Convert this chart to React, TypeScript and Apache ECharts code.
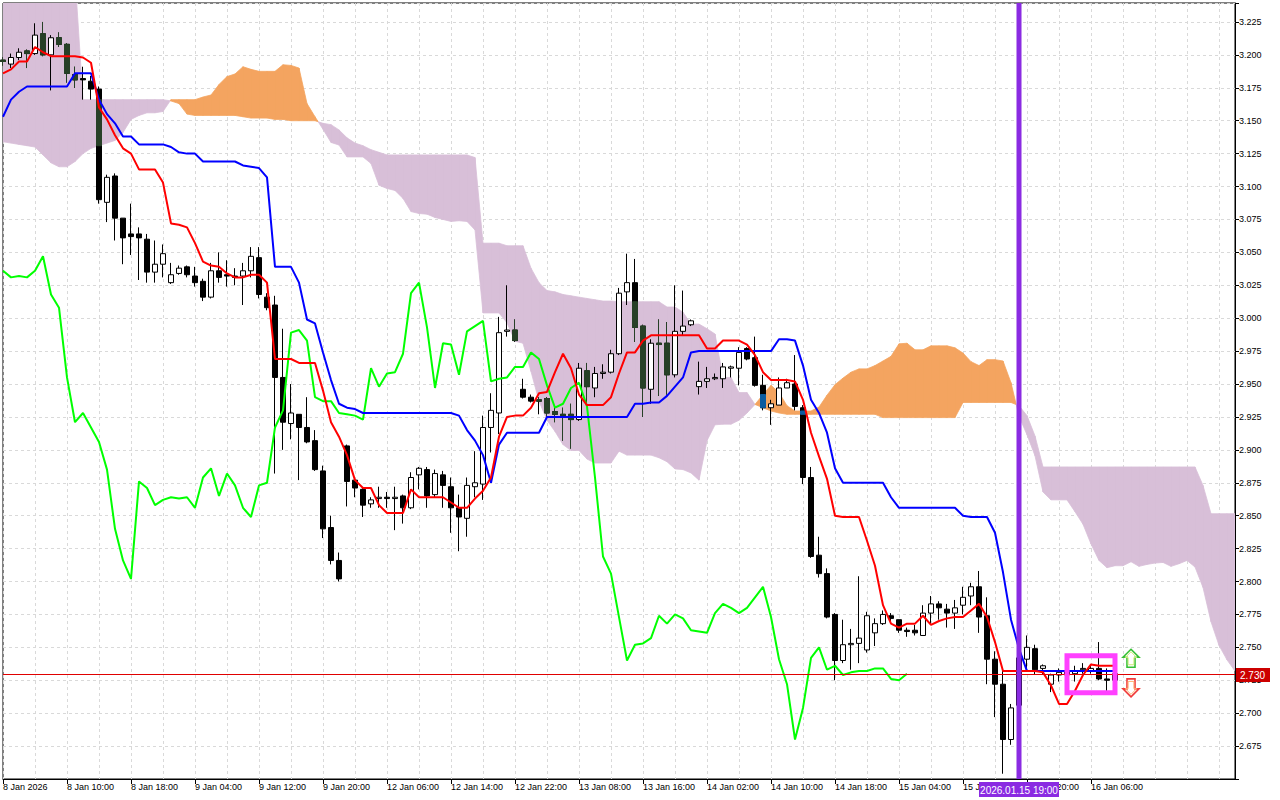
import React, { useEffect, useRef } from 'react';
import * as echarts from 'echarts';

// ---- x-axis time labels (one per 8 bars) ----
const timeLabels = ['8 Jan 2026', '8 Jan 10:00', '8 Jan 18:00', '9 Jan 04:00', '9 Jan 12:00', '9 Jan 20:00',
  '12 Jan 06:00', '12 Jan 14:00', '12 Jan 22:00', '13 Jan 08:00', '13 Jan 16:00', '14 Jan 02:00',
  '14 Jan 10:00', '14 Jan 18:00', '15 Jan 04:00', '15 Jan 12:00', '15 Jan 20:00', '16 Jan 06:00'];
const LABEL_EVERY = 8;

// ---- H1 candles ----
const opens = [3.196,3.193,3.198,3.203,3.201,3.216,3.200,3.213,3.208,3.185,
3.182,3.180,3.174,3.088,3.108,3.076,3.064,3.064,3.060,3.035,
3.041,3.027,3.034,3.039,3.032,3.028,3.016,3.036,3.033,3.032,
3.032,3.036,3.046,3.016,3.010,2.955,2.920,2.927,2.917,2.907,
2.884,2.841,2.816,2.903,2.877,2.870,2.859,2.863,2.864,2.863,
2.865,2.856,2.881,2.885,2.866,2.881,2.872,2.856,2.848,2.872,
2.874,2.917,2.928,2.990,2.991,2.946,2.940,2.938,2.939,2.929,
2.927,2.927,2.923,2.960,2.947,2.958,2.959,2.973,3.020,3.027,
2.994,2.946,2.981,2.981,2.957,2.990,2.995,2.948,2.952,2.954,
2.954,2.962,2.962,2.977,2.970,2.949,2.932,2.934,2.947,2.950,
2.932,2.879,2.820,2.806,2.775,2.740,2.752,2.753,2.748,2.761,
2.768,2.774,2.771,2.763,2.763,2.759,2.776,2.783,2.779,2.776,
2.782,2.789,2.796,2.774,2.741,2.722,2.680,2.706,2.741,2.749,
2.734,2.722,2.729,2.729,2.730,2.733,2.732,2.734,2.726,2.725];
const highs = [3.198,3.201,3.205,3.204,3.224,3.225,3.215,3.217,3.209,3.191,
3.191,3.184,3.176,3.109,3.110,3.076,3.087,3.069,3.064,3.059,
3.056,3.042,3.040,3.040,3.039,3.030,3.042,3.050,3.044,3.038,
3.042,3.054,3.054,3.019,3.017,2.992,2.950,2.927,2.940,2.915,
2.888,2.850,2.822,2.904,2.879,2.871,2.864,2.872,2.868,2.872,
2.866,2.883,2.887,2.887,2.885,2.884,2.879,2.866,2.879,2.899,
2.926,2.943,3.001,3.025,2.999,2.954,2.942,2.940,2.940,2.932,
2.932,2.935,2.966,2.966,2.963,2.965,2.976,3.023,3.049,3.045,
2.995,2.984,2.999,2.997,3.025,3.021,2.999,2.967,2.963,2.958,
2.966,2.964,2.978,2.978,2.986,2.957,2.938,2.955,2.954,2.972,
2.934,2.887,2.834,2.810,2.776,2.771,2.764,2.804,2.777,2.772,
2.778,2.776,2.771,2.765,2.767,2.782,2.789,2.785,2.783,2.786,
2.796,2.799,2.808,2.788,2.747,2.732,2.707,2.748,2.759,2.752,
2.737,2.730,2.734,2.736,2.736,2.738,2.737,2.754,2.734,2.733];
const lows = [3.192,3.190,3.196,3.190,3.200,3.199,3.173,3.206,3.179,3.175,
3.166,3.166,3.087,3.073,3.059,3.041,3.048,3.029,3.027,3.027,
3.031,3.026,3.033,3.031,3.024,3.013,3.015,3.027,3.024,3.025,
3.010,3.031,3.015,3.006,2.882,2.900,2.908,2.877,2.905,2.884,
2.833,2.813,2.800,2.857,2.864,2.849,2.856,2.856,2.856,2.839,
2.844,2.855,2.870,2.856,2.864,2.856,2.837,2.823,2.834,2.864,
2.862,2.898,2.912,2.986,2.982,2.939,2.936,2.927,2.925,2.921,
2.907,2.901,2.922,2.935,2.940,2.954,2.958,2.972,3.010,2.982,
2.925,2.935,2.941,2.942,2.955,2.987,2.994,2.942,2.947,2.953,
2.947,2.955,2.949,2.968,2.948,2.930,2.919,2.934,2.947,2.930,
2.874,2.818,2.803,2.772,2.725,2.738,2.733,2.738,2.746,2.751,
2.767,2.768,2.761,2.758,2.759,2.759,2.768,2.771,2.765,2.764,
2.775,2.782,2.761,2.722,2.697,2.654,2.676,2.702,2.733,2.729,
2.729,2.716,2.724,2.725,2.724,2.730,2.730,2.725,2.716,2.723];
const closes = [3.195,3.198,3.202,3.201,3.215,3.200,3.213,3.208,3.186,3.181,
3.181,3.174,3.090,3.107,3.076,3.061,3.062,3.061,3.035,3.041,
3.049,3.033,3.038,3.033,3.027,3.016,3.036,3.031,3.032,3.031,
3.036,3.047,3.018,3.008,2.955,2.921,2.928,2.917,2.906,2.885,
2.840,2.816,2.802,2.876,2.871,2.858,2.862,2.864,2.863,2.864,
2.856,2.879,2.886,2.865,2.882,2.873,2.856,2.849,2.873,2.875,
2.917,2.930,2.989,2.991,2.983,2.940,2.937,2.937,2.928,2.927,
2.926,2.923,2.962,2.948,2.958,2.959,2.973,3.019,3.027,2.993,
2.947,2.981,2.980,2.957,2.990,2.994,2.998,2.952,2.954,2.955,
2.963,2.963,2.974,2.969,2.949,2.932,2.935,2.947,2.951,2.933,
2.879,2.819,2.806,2.773,2.740,2.752,2.753,2.757,2.774,2.768,
2.775,2.772,2.763,2.762,2.761,2.776,2.783,2.780,2.776,2.780,
2.788,2.796,2.773,2.741,2.722,2.680,2.704,2.742,2.750,2.733,
2.736,2.729,2.731,2.732,2.732,2.734,2.734,2.726,2.725,2.730];

// ---- Ichimoku lines ----
const tenkan = [3.186,3.189,3.195,3.195,3.206,3.202,3.199,3.199,3.199,3.199,
3.198,3.194,3.160,3.151,3.139,3.129,3.125,3.113,3.113,3.113,
3.103,3.072,3.071,3.069,3.057,3.043,3.040,3.039,3.034,3.031,
3.031,3.033,3.033,3.027,2.969,2.969,2.969,2.966,2.966,2.966,
2.945,2.921,2.910,2.896,2.877,2.871,2.871,2.858,2.852,2.852,
2.852,2.870,2.864,2.864,2.864,2.864,2.860,2.856,2.856,2.863,
2.869,2.879,2.910,2.925,2.926,2.926,2.932,2.943,2.944,2.959,
2.973,2.962,2.942,2.934,2.934,2.934,2.940,2.958,2.974,2.974,
2.983,2.987,2.987,2.987,2.987,2.987,2.987,2.987,2.977,2.977,
2.983,2.983,2.983,2.980,2.972,2.959,2.953,2.953,2.953,2.952,
2.938,2.913,2.895,2.878,2.850,2.849,2.849,2.849,2.831,2.812,
2.782,2.768,2.765,2.768,2.768,2.774,2.767,2.770,2.772,2.773,
2.773,2.778,2.783,2.773,2.754,2.732,2.732,2.732,2.732,2.732,
2.731,2.721,2.707,2.707,2.717,2.729,2.737,2.736,2.736,2.736];
const kijun = [3.153,3.166,3.172,3.176,3.176,3.176,3.176,3.176,3.176,3.186,
3.186,3.186,3.166,3.155,3.148,3.138,3.138,3.132,3.132,3.132,
3.132,3.130,3.126,3.125,3.125,3.119,3.119,3.119,3.119,3.119,
3.116,3.115,3.114,3.107,3.039,3.039,3.039,3.027,2.999,2.996,
2.974,2.953,2.935,2.932,2.931,2.928,2.928,2.928,2.928,2.928,
2.928,2.928,2.928,2.928,2.928,2.928,2.928,2.926,2.915,2.907,
2.896,2.875,2.904,2.913,2.913,2.913,2.913,2.913,2.925,2.925,
2.925,2.925,2.925,2.925,2.925,2.925,2.925,2.925,2.925,2.935,
2.935,2.936,2.936,2.941,2.948,2.955,2.974,2.975,2.975,2.975,
2.975,2.975,2.975,2.975,2.975,2.975,2.975,2.984,2.984,2.983,
2.964,2.938,2.928,2.913,2.886,2.875,2.875,2.875,2.875,2.875,
2.875,2.864,2.856,2.856,2.856,2.856,2.856,2.856,2.856,2.856,
2.850,2.849,2.849,2.849,2.837,2.807,2.771,2.749,2.732,2.732,
2.732,2.732,2.732,2.732,2.732,2.732,2.732,2.732,2.732,2.732];
const chikou = [3.036,3.031,3.032,3.031,3.036,3.047,3.018,3.008,2.955,2.921,
2.928,2.917,2.906,2.885,2.840,2.816,2.802,2.876,2.871,2.858,
2.862,2.864,2.863,2.864,2.856,2.879,2.886,2.865,2.882,2.873,
2.856,2.849,2.873,2.875,2.917,2.930,2.989,2.991,2.983,2.940,
2.937,2.937,2.928,2.927,2.926,2.923,2.962,2.948,2.958,2.959,
2.973,3.019,3.027,2.993,2.947,2.981,2.980,2.957,2.990,2.994,
2.998,2.952,2.954,2.955,2.963,2.963,2.974,2.969,2.949,2.932,
2.935,2.947,2.951,2.933,2.879,2.819,2.806,2.773,2.740,2.752,
2.753,2.757,2.774,2.768,2.775,2.772,2.763,2.762,2.761,2.776,
2.783,2.780,2.776,2.780,2.788,2.796,2.773,2.741,2.722,2.680,
2.704,2.742,2.750,2.733,2.736,2.729,2.731,2.732,2.732,2.734,
2.734,2.726,2.725,2.730];
const senkouA = [3.134,3.133,3.132,3.131,3.130,3.124,3.118,3.115,3.115,3.119,
3.125,3.129,3.131,3.133,3.135,3.141,3.151,3.154,3.156,3.156,
3.157,3.166,3.166,3.166,3.166,3.168,3.1695,3.1775,3.1835,3.1855,
3.191,3.189,3.1875,3.1875,3.1875,3.1925,3.192,3.190,3.163,3.153,
3.1435,3.1335,3.1315,3.1225,3.1225,3.1225,3.1175,3.101,3.0985,3.097,
3.091,3.081,3.0795,3.079,3.0765,3.075,3.0735,3.074,3.0735,3.067,
3.004,3.004,3.004,2.9965,2.9825,2.981,2.9595,2.937,2.9225,2.914,
2.904,2.8995,2.8995,2.893,2.890,2.890,2.890,2.899,2.896,2.896,
2.896,2.896,2.894,2.891,2.8855,2.885,2.8825,2.877,2.907,2.919,
2.9195,2.9195,2.9225,2.928,2.9345,2.942,2.949,2.9435,2.9335,2.9295,
2.9295,2.9295,2.9325,2.9415,2.9495,2.9545,2.959,2.9615,2.9615,2.964,
2.9675,2.971,2.9805,2.981,2.976,2.976,2.979,2.979,2.979,2.9775,
2.9735,2.967,2.964,2.9685,2.9685,2.9675,2.951,2.9255,2.9115,2.8955,
2.868,2.862,2.862,2.862,2.853,2.8435,2.8285,2.816,2.8105,2.812,
2.812,2.815,2.8115,2.813,2.814,2.8145,2.8115,2.8135,2.816,2.811,
2.7955,2.7695,2.7515,2.7405,2.732];
const senkouB = [3.26,3.26,3.26,3.26,3.26,3.26,3.26,3.26,3.26,3.26,
3.166,3.166,3.166,3.166,3.166,3.166,3.166,3.166,3.166,3.166,
3.166,3.165,3.163,3.155,3.154,3.154,3.154,3.154,3.154,3.154,
3.153,3.152,3.152,3.152,3.151,3.151,3.150,3.150,3.150,3.150,
3.148,3.147,3.143,3.137,3.133,3.131,3.128,3.126,3.124,3.124,
3.124,3.124,3.124,3.124,3.124,3.124,3.124,3.124,3.124,3.122,
3.057,3.057,3.057,3.055,3.055,3.055,3.038,3.027,3.021,3.020,
3.018,3.017,3.016,3.015,3.014,3.013,3.013,3.0125,3.0125,3.0125,
3.0125,3.0125,3.0125,3.0085,3.0085,3.0045,2.9955,2.9955,2.992,2.988,
2.955,2.955,2.9435,2.9435,2.9345,2.932,2.9295,2.928,2.927,2.927,
2.927,2.927,2.927,2.927,2.927,2.927,2.927,2.927,2.927,2.927,
2.9245,2.9245,2.9245,2.9245,2.9245,2.9245,2.9245,2.9245,2.9245,2.9245,
2.936,2.936,2.936,2.936,2.936,2.936,2.936,2.9335,2.926,2.9105,
2.887,2.887,2.887,2.887,2.887,2.887,2.887,2.887,2.887,2.887,
2.887,2.887,2.887,2.887,2.887,2.887,2.887,2.887,2.887,2.887,
2.873,2.8515,2.8515,2.8515,2.8515];

// ---- annotations ----
const lastPrice = 2.730;
const cursorBar = 127;
const cursorText = '2026.01.15 19:00';
const boxBars = [133, 139];
const boxPrices = [2.7437, 2.7156];
const arrowBar = 141;
const upArrowPrice = 2.7417;
const downArrowPrice = 2.7192;

const Y_MIN = 2.65;
const Y_MAX = 3.2394;

const THISTLE = '#D8BFD8';
const SANDY = '#F4A460';
const XOR_THISTLE = '#274027';
const XOR_SANDY = '#0B5B9F';
const FONT = "'Liberation Sans', Arial, sans-serif";

export default function App() {
  const ref = useRef<HTMLDivElement>(null);
  useEffect(() => {
    document.body.style.margin = '0';
    const chart = echarts.init(ref.current as HTMLDivElement, undefined, { renderer: 'svg' });
    const cats = senkouA.map((_, i) => String(i));
    const isLabel = (i: number) => i % LABEL_EVERY === 0 && i / LABEL_EVERY < timeLabels.length;

    const candleData = opens.map((o, j) => [o, closes[j], lows[j], highs[j]]);
    const overlay = opens.map((o, j) => {
      const c = closes[j];
      const a = senkouA[j], b = senkouB[j];
      const lo = Math.min(a, b), hi = Math.max(a, b);
      if (!(c < o)) return '-';
      const top = Math.min(o, hi), bot = Math.max(c, lo);
      if (top <= bot) return '-';
      const col = a > b ? XOR_SANDY : XOR_THISTLE;
      return {
        value: [top, bot, Math.max(lows[j], lo), Math.min(highs[j], hi)],
        itemStyle: { color: col, color0: col, borderColor: col, borderColor0: col },
      };
    });
    const cloudData = senkouA.slice(0, -1).map((a, i) => [i, a, senkouB[i], senkouA[i + 1], senkouB[i + 1]]);

    chart.setOption({
      animation: false,
      backgroundColor: '#fff',
      grid: { left: 3, right: 45, top: 3, bottom: 21, show: true, borderColor: '#000', borderWidth: 1, backgroundColor: 'transparent' },
      xAxis: {
        type: 'category', data: cats, boundaryGap: false,
        axisLine: { show: true, lineStyle: { color: '#000' } },
        axisTick: { show: true, interval: (i: number) => isLabel(i), length: 5, lineStyle: { color: '#000' } },
        axisLabel: {
          interval: (i: number) => isLabel(i),
          formatter: (_v: string, i: number) => (isLabel(i) ? timeLabels[i / LABEL_EVERY] : ''),
          align: 'left', margin: 3, color: '#000', fontSize: 9, fontFamily: FONT,
        },
        splitLine: { show: true, interval: 3, lineStyle: { color: '#d9d9d9', type: [3, 3], width: 1 } },
      },
      yAxis: {
        type: 'value', position: 'right', min: Y_MIN, max: Y_MAX, interval: 0.025,
        axisLine: { show: true, lineStyle: { color: '#000' } },
        axisTick: { show: true, length: 4, lineStyle: { color: '#000' } },
        axisLabel: {
          margin: 4, color: '#000', fontSize: 9, fontFamily: FONT,
          formatter: (v: number) => (v > 2.674 && v < 3.226 && Math.abs(v * 40 - Math.round(v * 40)) < 1e-6 ? v.toFixed(3) : ''),
        },
        splitLine: { show: true, lineStyle: { color: '#d9d9d9', type: [3, 3], width: 1 } },
      },
      series: [
        {
          type: 'custom', name: 'cloud', clip: true, z: 1, silent: true,
          data: cloudData,
          renderItem: (_p: any, api: any) => {
            const i = api.value(0);
            const a0 = api.value(1), b0 = api.value(2), a1 = api.value(3), b1 = api.value(4);
            const pA0 = api.coord([i, a0]), pB0 = api.coord([i, b0]);
            const pA1 = api.coord([i + 1, a1]), pB1 = api.coord([i + 1, b1]);
            const d0 = a0 - b0, d1 = a1 - b1;
            const colOf = (d: number) => (d > 0 ? SANDY : THISTLE);
            const children: any[] = [];
            const poly = (pts: number[][], fill: string) => children.push({
              type: 'polygon', shape: { points: pts }, style: { fill, stroke: fill, lineWidth: 0.8 },
            });
            if (d0 * d1 >= 0) {
              poly([pA0, pA1, pB1, pB0], colOf(d0 !== 0 ? d0 : d1));
            } else {
              const t = d0 / (d0 - d1);
              const m = [pA0[0] + (pA1[0] - pA0[0]) * t, pA0[1] + (pA1[1] - pA0[1]) * t];
              poly([pA0, m, pB0], colOf(d0));
              poly([m, pA1, pB1], colOf(d1));
            }
            return { type: 'group', children };
          },
        },
        {
          type: 'candlestick', name: 'price', z: 2, barWidth: 5, data: candleData,
          itemStyle: { color: '#fff', color0: '#000', borderColor: '#000', borderColor0: '#000', borderWidth: 1 },
        },
        {
          type: 'candlestick', name: 'inCloud', z: 3, barWidth: 5, data: overlay,
          itemStyle: { color: XOR_THISTLE, color0: XOR_THISTLE, borderColor: XOR_THISTLE, borderColor0: XOR_THISTLE, borderWidth: 1 },
        },
        { type: 'line', name: 'Chikou', data: chikou, z: 4, symbol: 'none', lineStyle: { color: '#00FF00', width: 2 }, itemStyle: { color: '#00FF00' } },
        { type: 'line', name: 'Kijun', data: kijun, z: 5, symbol: 'none', lineStyle: { color: '#0000FF', width: 2 }, itemStyle: { color: '#0000FF' } },
        { type: 'line', name: 'Tenkan', data: tenkan, z: 6, symbol: 'none', lineStyle: { color: '#FF0000', width: 2 }, itemStyle: { color: '#FF0000' } },
      ],
    });

    const px = (j: number, v: number) => chart.convertToPixel({ gridIndex: 0 }, [j, v]) as number[];
    const [left, top] = px(0, Y_MAX);
    const [right, bottom] = px(cats.length - 1, Y_MIN);
    const priceY = px(0, lastPrice)[1];
    const cx = px(cursorBar, lastPrice)[0];
    const b1 = px(boxBars[0], boxPrices[0]);
    const b2 = px(boxBars[1], boxPrices[1]);
    const ua = px(arrowBar, upArrowPrice);
    const da = px(arrowBar, downArrowPrice);

    const upPts = (x: number, y: number, s: number) => [
      [x, y - 9 * s], [x + 8 * s, y - 1 * s], [x + 4 * s, y - 1 * s], [x + 4 * s, y + 9 * s],
      [x - 4 * s, y + 9 * s], [x - 4 * s, y - 1 * s], [x - 8 * s, y - 1 * s]];
    const downPts = (x: number, y: number, s: number) => upPts(x, 0, s).map(([px2, py2]) => [px2, y - py2]);

    chart.setOption({
      graphic: [
        { type: 'line', z: 30, shape: { x1: left, y1: Math.round(priceY) + 0.5, x2: right, y2: Math.round(priceY) + 0.5 }, style: { stroke: '#E00000', lineWidth: 1 } },
        { type: 'rect', z: 31, shape: { x: right + 1, y: Math.round(priceY) - 6, width: 34, height: 14 }, style: { fill: '#CC0000' } },
        { type: 'text', z: 32, x: right + 5, y: Math.round(priceY) + 1, style: { text: lastPrice.toFixed(3), fill: '#fff', font: `10px ${FONT}`, textVerticalAlign: 'middle', verticalAlign: 'middle' } },
        { type: 'polygon', z: 33, shape: { points: upPts(ua[0], ua[1], 1) }, style: { fill: '#fff', stroke: '#35C035', lineWidth: 1.6 } },
        { type: 'polygon', z: 34, shape: { points: upPts(ua[0], ua[1], 0.72) }, style: { fill: 'transparent', stroke: '#CFEA7A', lineWidth: 1 } },
        { type: 'polygon', z: 33, shape: { points: downPts(da[0], da[1], 1) }, style: { fill: '#fff', stroke: '#F03A3A', lineWidth: 1.6 } },
        { type: 'polygon', z: 34, shape: { points: downPts(da[0], da[1], 0.72) }, style: { fill: 'transparent', stroke: '#FFB070', lineWidth: 1 } },
        { type: 'rect', z: 35, shape: { x: b1[0], y: b1[1], width: b2[0] - b1[0], height: b2[1] - b1[1] }, style: { fill: 'transparent', stroke: '#FF40FF', lineWidth: 5 } },
        { type: 'rect', z: 40, shape: { x: cx - 2.5, y: top, width: 5, height: bottom - top }, style: { fill: '#8A2BE2' } },
        { type: 'rect', z: 41, shape: { x: cx - 40, y: bottom + 3, width: 80, height: 15 }, style: { fill: '#8A2BE2' } },
        { type: 'text', z: 42, x: cx, y: bottom + 11, style: { text: cursorText, fill: '#fff', font: `10px ${FONT}`, textAlign: 'center', align: 'center', textVerticalAlign: 'middle', verticalAlign: 'middle' } },
      ],
    });

    return () => chart.dispose();
  }, []);
  return <div ref={ref} style={{ width: 1280, height: 800 }} />;
}
